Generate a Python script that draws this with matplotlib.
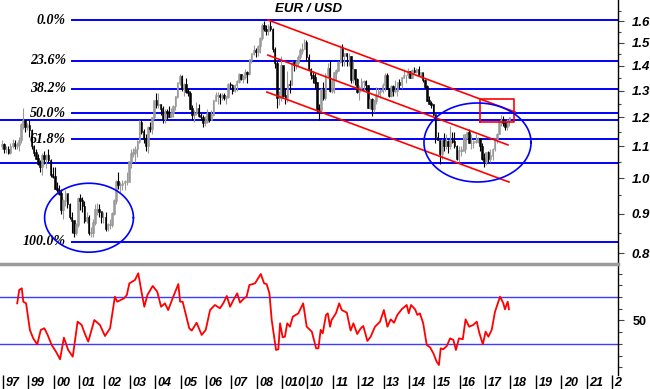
import numpy as np
import pandas as pd
import matplotlib
matplotlib.use('Agg')
import matplotlib.pyplot as plt
import matplotlib.transforms as mtransforms
from matplotlib.ticker import FixedLocator, FixedFormatter, NullFormatter

# monthly EUR/USD candles, Dec 1997 .. Dec 2017
first_month = '1997-12'
first_open = 1.10
high = [1.12,
        1.11, 1.10, 1.10, 1.11, 1.125, 1.12, 1.115, 1.13, 1.18, 1.235, 1.19, 1.18,
        1.19, 1.16, 1.105, 1.09, 1.075, 1.055, 1.08, 1.085, 1.075, 1.09, 1.06, 1.035,
        1.035, 0.99, 0.98, 0.97, 0.94, 0.965, 0.955, 0.93, 0.905, 0.88, 0.875, 0.945,
        0.955, 0.945, 0.935, 0.905, 0.895, 0.865, 0.885, 0.925, 0.93, 0.925, 0.905, 0.905,
        0.905, 0.875, 0.885, 0.905, 0.94, 0.995, 1.02, 0.99, 0.995, 0.995, 1.02, 1.05,
        1.09, 1.095, 1.10, 1.12, 1.19, 1.19, 1.16, 1.14, 1.17, 1.185, 1.20, 1.26,
        1.29, 1.29, 1.25, 1.24, 1.23, 1.23, 1.24, 1.235, 1.245, 1.28, 1.33, 1.365,
        1.36, 1.33, 1.35, 1.31, 1.30, 1.245, 1.225, 1.255, 1.25, 1.215, 1.21, 1.205,
        1.23, 1.22, 1.225, 1.265, 1.295, 1.295, 1.29, 1.29, 1.29, 1.28, 1.33, 1.335,
        1.325, 1.325, 1.34, 1.37, 1.365, 1.36, 1.385, 1.38, 1.43, 1.45, 1.49, 1.475,
        1.49, 1.525, 1.59, 1.60, 1.58, 1.585, 1.60, 1.565, 1.48, 1.42, 1.30, 1.44,
        1.40, 1.31, 1.38, 1.34, 1.42, 1.42, 1.425, 1.445, 1.475, 1.50, 1.515, 1.51,
        1.45, 1.39, 1.38, 1.37, 1.33, 1.25, 1.31, 1.335, 1.37, 1.41, 1.425, 1.345,
        1.375, 1.385, 1.42, 1.49, 1.495, 1.45, 1.455, 1.455, 1.44, 1.42, 1.385, 1.35,
        1.32, 1.35, 1.34, 1.34, 1.32, 1.27, 1.27, 1.265, 1.315, 1.31, 1.305, 1.33,
        1.37, 1.37, 1.31, 1.32, 1.32, 1.34, 1.335, 1.345, 1.355, 1.385, 1.36, 1.39,
        1.38, 1.385, 1.395, 1.39, 1.40, 1.37, 1.37, 1.345, 1.32, 1.28, 1.26, 1.25,
        1.21, 1.15, 1.12, 1.125, 1.145, 1.14, 1.12, 1.17, 1.15, 1.15, 1.105, 1.10,
        1.10, 1.14, 1.14, 1.15, 1.16, 1.14, 1.12, 1.14, 1.13, 1.125, 1.11, 1.08,
        1.08, 1.085, 1.09, 1.095, 1.125, 1.145, 1.185, 1.21, 1.205, 1.19, 1.195, 1.20]
low = [1.09,
       1.08, 1.08, 1.075, 1.075, 1.095, 1.09, 1.09, 1.085, 1.11, 1.16, 1.15, 1.155,
       1.13, 1.09, 1.07, 1.06, 1.04, 1.02, 1.01, 1.045, 1.03, 1.05, 1.005, 1.00,
       0.97, 0.96, 0.95, 0.90, 0.885, 0.92, 0.915, 0.885, 0.85, 0.84, 0.845, 0.865,
       0.91, 0.905, 0.875, 0.875, 0.845, 0.84, 0.84, 0.87, 0.895, 0.89, 0.875, 0.875,
       0.855, 0.855, 0.86, 0.865, 0.895, 0.925, 0.97, 0.96, 0.965, 0.965, 0.98, 0.99,
       1.03, 1.065, 1.05, 1.065, 1.11, 1.14, 1.11, 1.085, 1.08, 1.15, 1.14, 1.195,
       1.235, 1.235, 1.21, 1.18, 1.18, 1.195, 1.20, 1.20, 1.20, 1.225, 1.27, 1.32,
       1.30, 1.28, 1.29, 1.28, 1.23, 1.19, 1.185, 1.21, 1.20, 1.19, 1.165, 1.17,
       1.18, 1.185, 1.19, 1.205, 1.26, 1.25, 1.25, 1.265, 1.265, 1.25, 1.27, 1.31,
       1.285, 1.295, 1.30, 1.33, 1.34, 1.33, 1.345, 1.33, 1.36, 1.41, 1.445, 1.435,
       1.44, 1.455, 1.51, 1.555, 1.535, 1.535, 1.555, 1.46, 1.39, 1.235, 1.245, 1.26,
       1.275, 1.25, 1.255, 1.29, 1.32, 1.38, 1.385, 1.40, 1.43, 1.45, 1.47, 1.42,
       1.385, 1.345, 1.33, 1.31, 1.215, 1.19, 1.22, 1.265, 1.265, 1.355, 1.295, 1.29,
       1.29, 1.34, 1.38, 1.41, 1.40, 1.40, 1.40, 1.40, 1.33, 1.33, 1.32, 1.29,
       1.265, 1.30, 1.30, 1.30, 1.235, 1.23, 1.205, 1.22, 1.25, 1.28, 1.27, 1.29,
       1.30, 1.305, 1.275, 1.275, 1.28, 1.29, 1.28, 1.31, 1.31, 1.35, 1.33, 1.35,
       1.35, 1.35, 1.37, 1.37, 1.36, 1.35, 1.335, 1.31, 1.26, 1.25, 1.235, 1.21,
       1.11, 1.12, 1.045, 1.06, 1.085, 1.09, 1.08, 1.09, 1.11, 1.095, 1.055, 1.05,
       1.07, 1.09, 1.08, 1.125, 1.11, 1.09, 1.095, 1.11, 1.11, 1.085, 1.055, 1.035,
       1.04, 1.05, 1.05, 1.055, 1.085, 1.11, 1.14, 1.17, 1.17, 1.155, 1.155, 1.17]
close = [1.105,
         1.09, 1.09, 1.08, 1.10, 1.11, 1.10, 1.105, 1.12, 1.175, 1.19, 1.165, 1.17,
         1.155, 1.10, 1.08, 1.06, 1.045, 1.035, 1.07, 1.06, 1.07, 1.055, 1.01, 1.005,
         0.97, 0.965, 0.955, 0.91, 0.935, 0.955, 0.925, 0.89, 0.88, 0.85, 0.87, 0.94,
         0.935, 0.92, 0.88, 0.89, 0.85, 0.85, 0.875, 0.91, 0.91, 0.905, 0.89, 0.89,
         0.86, 0.87, 0.87, 0.90, 0.935, 0.99, 0.98, 0.98, 0.985, 0.99, 0.99, 1.05,
         1.075, 1.08, 1.09, 1.115, 1.18, 1.15, 1.125, 1.10, 1.165, 1.16, 1.20, 1.26,
         1.245, 1.245, 1.23, 1.195, 1.22, 1.215, 1.20, 1.215, 1.24, 1.275, 1.33, 1.355,
         1.305, 1.325, 1.295, 1.29, 1.23, 1.21, 1.215, 1.23, 1.205, 1.20, 1.18, 1.185,
         1.215, 1.19, 1.21, 1.26, 1.28, 1.28, 1.275, 1.28, 1.27, 1.275, 1.325, 1.32,
         1.30, 1.32, 1.335, 1.365, 1.345, 1.355, 1.37, 1.365, 1.425, 1.45, 1.465, 1.46,
         1.485, 1.52, 1.58, 1.56, 1.555, 1.575, 1.56, 1.47, 1.41, 1.27, 1.27, 1.40,
         1.28, 1.27, 1.325, 1.32, 1.415, 1.405, 1.41, 1.435, 1.465, 1.47, 1.50, 1.435,
         1.385, 1.36, 1.35, 1.33, 1.23, 1.225, 1.305, 1.27, 1.36, 1.39, 1.30, 1.34,
         1.37, 1.38, 1.415, 1.48, 1.44, 1.45, 1.44, 1.44, 1.34, 1.385, 1.345, 1.295,
         1.31, 1.335, 1.335, 1.32, 1.235, 1.265, 1.23, 1.26, 1.285, 1.295, 1.30, 1.32,
         1.36, 1.305, 1.28, 1.315, 1.30, 1.30, 1.33, 1.32, 1.35, 1.36, 1.36, 1.375,
         1.35, 1.38, 1.375, 1.385, 1.36, 1.37, 1.34, 1.315, 1.26, 1.25, 1.245, 1.21,
         1.13, 1.12, 1.075, 1.12, 1.10, 1.115, 1.10, 1.12, 1.115, 1.10, 1.06, 1.085,
         1.085, 1.09, 1.14, 1.145, 1.11, 1.11, 1.115, 1.115, 1.125, 1.10, 1.06, 1.05,
         1.08, 1.06, 1.07, 1.09, 1.125, 1.14, 1.185, 1.19, 1.18, 1.165, 1.19, 1.20]

# oscillator in the lower panel
rsi_year = [1998.56, 1998.64, 1998.74, 1998.80, 1998.91, 1999.06, 1999.19, 1999.35, 1999.49, 1999.63,
            1999.76, 1999.92, 2000.09, 2000.25, 2000.40, 2000.57, 2000.75, 2000.94, 2001.10, 2001.23,
            2001.36, 2001.60, 2001.82, 2002.02, 2002.22, 2002.41, 2002.50, 2002.77, 2002.88, 2002.98,
            2003.20, 2003.33, 2003.47, 2003.57, 2003.69, 2003.90, 2004.08, 2004.23, 2004.38, 2004.51,
            2004.71, 2004.91, 2004.98, 2005.08, 2005.34, 2005.44, 2005.63, 2005.83, 2005.99, 2006.16,
            2006.35, 2006.55, 2006.68, 2006.82, 2006.95, 2007.08, 2007.23, 2007.34, 2007.50, 2007.60,
            2007.71, 2007.93, 2008.16, 2008.29, 2008.39, 2008.50, 2008.59, 2008.76, 2008.85, 2008.92,
            2009.02, 2009.11, 2009.20, 2009.31, 2009.42, 2009.64, 2009.83, 2009.97, 2010.17, 2010.34,
            2010.43, 2010.52, 2010.60, 2010.73, 2010.80, 2010.89, 2010.95, 2011.12, 2011.25, 2011.35,
            2011.55, 2011.70, 2011.81, 2011.96, 2012.10, 2012.20, 2012.36, 2012.49, 2012.66, 2012.86,
            2013.01, 2013.15, 2013.28, 2013.41, 2013.54, 2013.71, 2013.91, 2013.99, 2014.08, 2014.24,
            2014.33, 2014.43, 2014.56, 2014.70, 2014.83, 2014.96, 2015.09, 2015.18, 2015.25, 2015.35,
            2015.49, 2015.62, 2015.75, 2015.85, 2015.97, 2016.12, 2016.23, 2016.37, 2016.53, 2016.67,
            2016.77, 2016.91, 2017.02, 2017.13, 2017.26, 2017.39, 2017.59, 2017.72, 2017.78, 2017.89,
            2017.94]
rsi_value = [64.6, 76.0, 77.4, 66.0, 64.6, 42.0, 34.8, 29.7, 42.0, 43.4,
             37.7, 29.1, 23.4, 17.0, 35.4, 24.9, 19.2, 49.0, 46.2, 38.5,
             32.0, 50.4, 46.2, 36.8, 43.4, 70.3, 66.0, 68.9, 71.7, 81.6,
             84.5, 90.2, 73.1, 61.7, 71.7, 79.4, 74.5, 61.7, 64.6, 58.9,
             70.3, 81.0, 66.0, 66.0, 43.4, 41.4, 48.1, 37.7, 42.0, 58.9,
             63.2, 60.4, 64.6, 70.9, 61.7, 67.4, 73.1, 65.2, 68.9, 70.3,
             80.2, 81.6, 89.6, 81.6, 81.0, 73.1, 50.4, 24.9, 25.5, 47.6,
             35.7, 36.2, 47.6, 44.7, 53.2, 56.1, 64.6, 44.7, 40.5, 26.3,
             26.3, 42.0, 39.1, 54.7, 56.1, 44.7, 50.4, 56.1, 64.6, 58.9,
             56.7, 41.4, 47.6, 38.5, 43.4, 45.3, 32.6, 36.2, 44.7, 49.0,
             58.9, 44.7, 51.0, 48.1, 54.7, 59.5, 63.2, 56.1, 63.2, 59.5,
             54.7, 56.1, 47.6, 29.1, 27.2, 22.1, 14.9, 12.1, 26.3, 25.5,
             28.3, 34.8, 33.4, 24.9, 34.8, 34.0, 51.0, 44.7, 46.2, 49.0,
             39.6, 29.7, 40.5, 36.2, 42.0, 57.5, 70.3, 64.6, 59.5, 66.0,
             59.5]

# Fibonacci retracement from the 2000 low to the 2008 high
fib_ratios = [0.0, 0.236, 0.382, 0.5, 0.618, 1.0]
fib_labels = ['0.0%', '23.6%', '38.2%', '50.0%', '61.8%', '100.0%']
fib_high, fib_low = 1.604, 0.827
fib_start = 2000.72
support_levels = [1.19, 1.048]

# down channel (x0, x1), (y0, y1)
channel = [((2008.44, 2018.18), (1.605, 1.219)),
           ((2008.44, 2017.90), (1.445, 1.105)),
           ((2008.40, 2017.94), (1.294, 0.989))]
box_x, box_y = (2016.80, 2018.14), (1.183, 1.267)
# ellipses: centre year, centre price, half width (yr), half height (log)
circles = [(2001.39, 0.889, 1.75, 0.103), (2016.70, 1.113, 2.11, 0.118)]

year_ticks = list(range(1998, 2023))
year_labels = ['97', '99', '00', '01', '02', '03', '04', '05', '06', '07', '08', '010',
               '10', '11', '12', '13', '14', '15', '16', '17', '18', '19', '20', '21', '2']
price_ticks = [0.8, 0.9, 1.0, 1.1, 1.2, 1.3, 1.4, 1.5, 1.6]

sans = 'Liberation Sans'
serif = 'Liberation Serif'
blue = '#0000ff'

dates = pd.date_range(first_month, periods=len(close), freq='MS')
xs = dates.year + (dates.month - 0.5) / 12.0
opens = [first_open] + close[:-1]

fig = plt.figure(figsize=(6.5, 3.89), dpi=100)
ax = fig.add_axes([0, 1 - 263 / 389., 618 / 650., 263 / 389.])
ax2 = fig.add_axes([0, 14 / 389., 618 / 650., 111 / 389.])

xlim = (1997.882, 2022.237)

# price panel
ax.set_yscale('log')
ax.set_xlim(*xlim)
ax.set_ylim(0.7765, 1.7036)

for x, o, h, l, c in zip(xs, opens, high, low, close):
    col = '#9a9a9a' if c >= o else 'black'
    ax.vlines(x, l, h, color=col, lw=0.8, zorder=3)
    ax.bar(x, abs(c - o) + 0.002, bottom=min(o, c), width=0.06, color=col,
           edgecolor=col, lw=0.4, zorder=3)

for r, lab in zip(fib_ratios, fib_labels):
    lvl = fib_high - r * (fib_high - fib_low)
    ax.plot([fib_start, xlim[1]], [lvl, lvl], color=blue, lw=1.4, zorder=2)
    ax.text(66 / 618., lvl, lab, transform=ax.get_yaxis_transform(), ha='right', va='center',
            fontsize=10, fontfamily=serif, fontweight='bold', fontstyle='italic')
for lvl in support_levels:
    ax.axhline(lvl, color=blue, lw=1.4, zorder=2)

for (cx, cy) in channel:
    ax.plot(cx, cy, color='red', lw=1.2, zorder=4)
ax.plot([box_x[0], box_x[1], box_x[1], box_x[0], box_x[0]],
        [box_y[0], box_y[0], box_y[1], box_y[1], box_y[0]], color='red', lw=1.2, zorder=4)

t = np.linspace(0, 2 * np.pi, 200)
for cx, cy, a, b in circles:
    ax.plot(cx + a * np.cos(t), cy * np.exp(b * np.sin(t)), color=blue, lw=1.2, zorder=5)

ax.text(0.5, 0.966, 'EUR / USD', transform=ax.transAxes, ha='center', va='center',
        fontsize=9.5, fontfamily=sans, fontweight='bold', fontstyle='italic')

ax.yaxis.tick_right()
ax.yaxis.set_major_locator(FixedLocator(price_ticks))
ax.yaxis.set_major_formatter(FixedFormatter(['%.1f' % p for p in price_ticks]))
ax.yaxis.set_minor_locator(FixedLocator([0.85, 0.95, 1.05, 1.15, 1.25, 1.35, 1.45, 1.55, 1.65]))
ax.yaxis.set_minor_formatter(NullFormatter())
ax.tick_params(axis='y', which='major', length=4, width=0.8, color='#444444', pad=6)
ax.tick_params(axis='y', which='minor', length=2.5, width=0.8, color='#444444')
for lab in ax.get_yticklabels():
    lab.set_fontfamily(sans)
    lab.set_fontweight('bold')
    lab.set_fontstyle('italic')
    lab.set_fontsize(9.5)
ax.set_xticks([])
for s in ['top', 'left', 'bottom']:
    ax.spines[s].set_visible(False)
ax.spines['right'].set_linewidth(1)

# oscillator panel
ax2.set_xlim(*xlim)
ax2.set_ylim(3.6, 98.1)
ax2.axhline(70, color='#3c3cff', lw=1)
ax2.axhline(30, color='#3c3cff', lw=1)
ax2.plot(rsi_year, rsi_value, color='red', lw=1.3)

ax2.yaxis.tick_right()
ax2.yaxis.set_major_locator(FixedLocator([50]))
ax2.yaxis.set_major_formatter(FixedFormatter(['50']))
ax2.yaxis.set_minor_locator(FixedLocator([10, 20, 30, 40, 60, 70, 80, 90]))
ax2.tick_params(axis='y', which='major', length=4.5, width=0.8, color='#444444', pad=6,
                labelsize=9)
ax2.tick_params(axis='y', which='minor', length=3, width=0.8, color='#444444')
for lab in ax2.get_yticklabels():
    lab.set_fontfamily(sans)
    lab.set_fontweight('bold')

ax2.set_xticks(year_ticks)
ax2.tick_params(axis='x', length=10, width=1, color='black', direction='out', labelbottom=False)
off = mtransforms.ScaledTranslation(2.5 / 100., -2.5 / 100., fig.dpi_scale_trans)
for yr, lab in zip(year_ticks, year_labels):
    ax2.text(yr, 0, lab, transform=ax2.get_xaxis_transform() + off, ha='left', va='top',
             fontsize=9, fontfamily=sans, fontweight='bold', fontstyle='italic')

for s in ['left', 'bottom']:
    ax2.spines[s].set_visible(False)
ax2.spines['top'].set_color('#9a9a9a')
ax2.spines['top'].set_linewidth(2.5)
ax2.spines['right'].set_linewidth(1)

fig.savefig('out.png', dpi=100)
